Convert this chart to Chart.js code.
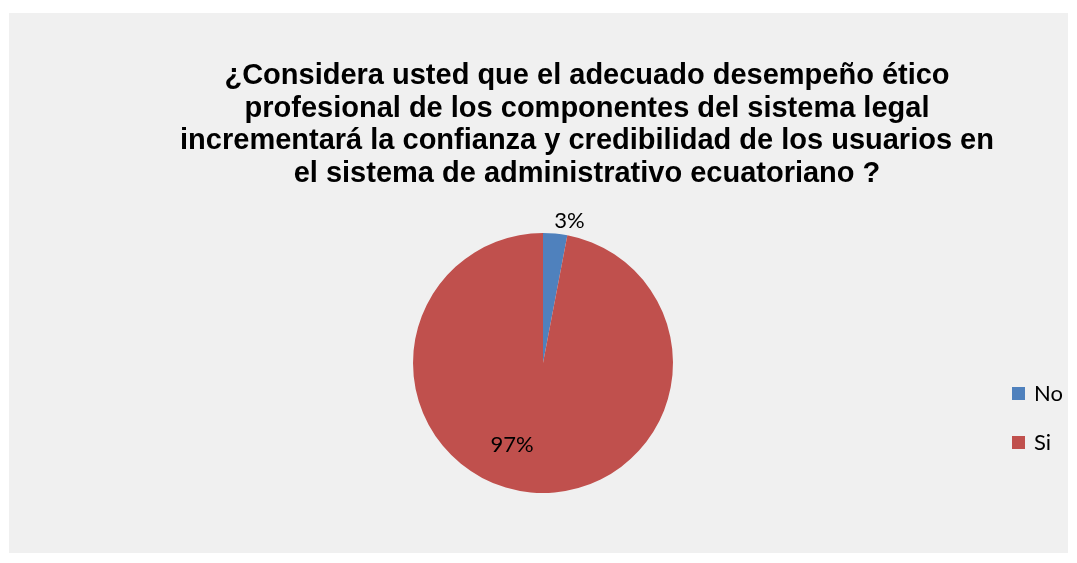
<!DOCTYPE html>
<html>
<head>
<meta charset="utf-8">
<script src="https://cdn.jsdelivr.net/npm/chart.js@4/dist/chart.umd.min.js"></script>
<style>
  html, body { margin: 0; padding: 0; background: #ffffff; }
  #wrap { width: 1077px; height: 563px; }
</style>
</head>
<body>
<div id="wrap"><canvas id="reporteEtica"></canvas></div>
<script>
var categorias = ["No", "Si"];
var porcentajes = [3, 97];
var etiquetas = ["3%", "97%"];
var colores = ["#4F81BD", "#C0504D"];
var titulo = [
  "¿Considera usted que el adecuado desempeño ético",
  "profesional de los componentes del sistema legal",
  "incrementará la confianza y credibilidad de los usuarios en",
  "el sistema de administrativo ecuatoriano ?"
];

// fondo gris, titulo, etiquetas y leyenda dibujados a mano
var decorado = {
  id: "decorado",
  beforeDraw: function(chart) {
    var ctx = chart.ctx;
    ctx.save();
    ctx.fillStyle = "#f0f0f0";
    ctx.fillRect(9, 13, 1059, 540);
    ctx.restore();
  },
  afterDraw: function(chart) {
    var ctx = chart.ctx;
    ctx.save();
    ctx.fillStyle = "#000000";
    ctx.font = "bold 29px 'Liberation Sans', Arial, sans-serif";
    ctx.textAlign = "center";
    ctx.textBaseline = "alphabetic";
    titulo.forEach(function(linea, i) {
      ctx.fillText(linea, 587, 84 + i * 32.7);
    });

    ctx.font = "22px Lato, 'Open Sans', sans-serif";
    ctx.textBaseline = "middle";
    var arcos = chart.getDatasetMeta(0).data;
    arcos.forEach(function(arc, i) {
      var p = arc.getProps(["x", "y", "startAngle", "endAngle", "outerRadius"], true);
      var mid = (p.startAngle + p.endAngle) / 2;
      if (porcentajes[i] < 10) {
        var r = p.outerRadius + 10;
        ctx.textAlign = "left";
        ctx.fillText(etiquetas[i], p.x + Math.cos(mid) * r - 2, p.y + Math.sin(mid) * r - 3);
      } else {
        var a = mid + 0.27, r2 = p.outerRadius * 0.67;
        ctx.textAlign = "center";
        ctx.fillText(etiquetas[i], p.x + Math.cos(a) * r2, p.y + Math.sin(a) * r2 + 1);
      }
    });

    ctx.textAlign = "left";
    categorias.forEach(function(c, i) {
      var y = 394 + i * 49;
      ctx.fillStyle = colores[i];
      ctx.fillRect(1012, y - 7, 13, 13);
      ctx.fillStyle = "#000000";
      ctx.fillText(c, 1034, y);
    });
    ctx.restore();
  }
};

new Chart("reporteEtica", {
  type: "pie",
  data: {
    labels: categorias,
    datasets: [{
      data: porcentajes,
      backgroundColor: colores,
      borderWidth: 0
    }]
  },
  options: {
    responsive: true,
    maintainAspectRatio: false,
    animation: false,
    layout: { padding: { left: 413, right: 404, top: 233, bottom: 70 } },
    plugins: {
      legend: { display: false },
      title: { display: false },
      tooltip: { enabled: false }
    }
  },
  plugins: [decorado]
});
</script>
</body>
</html>
